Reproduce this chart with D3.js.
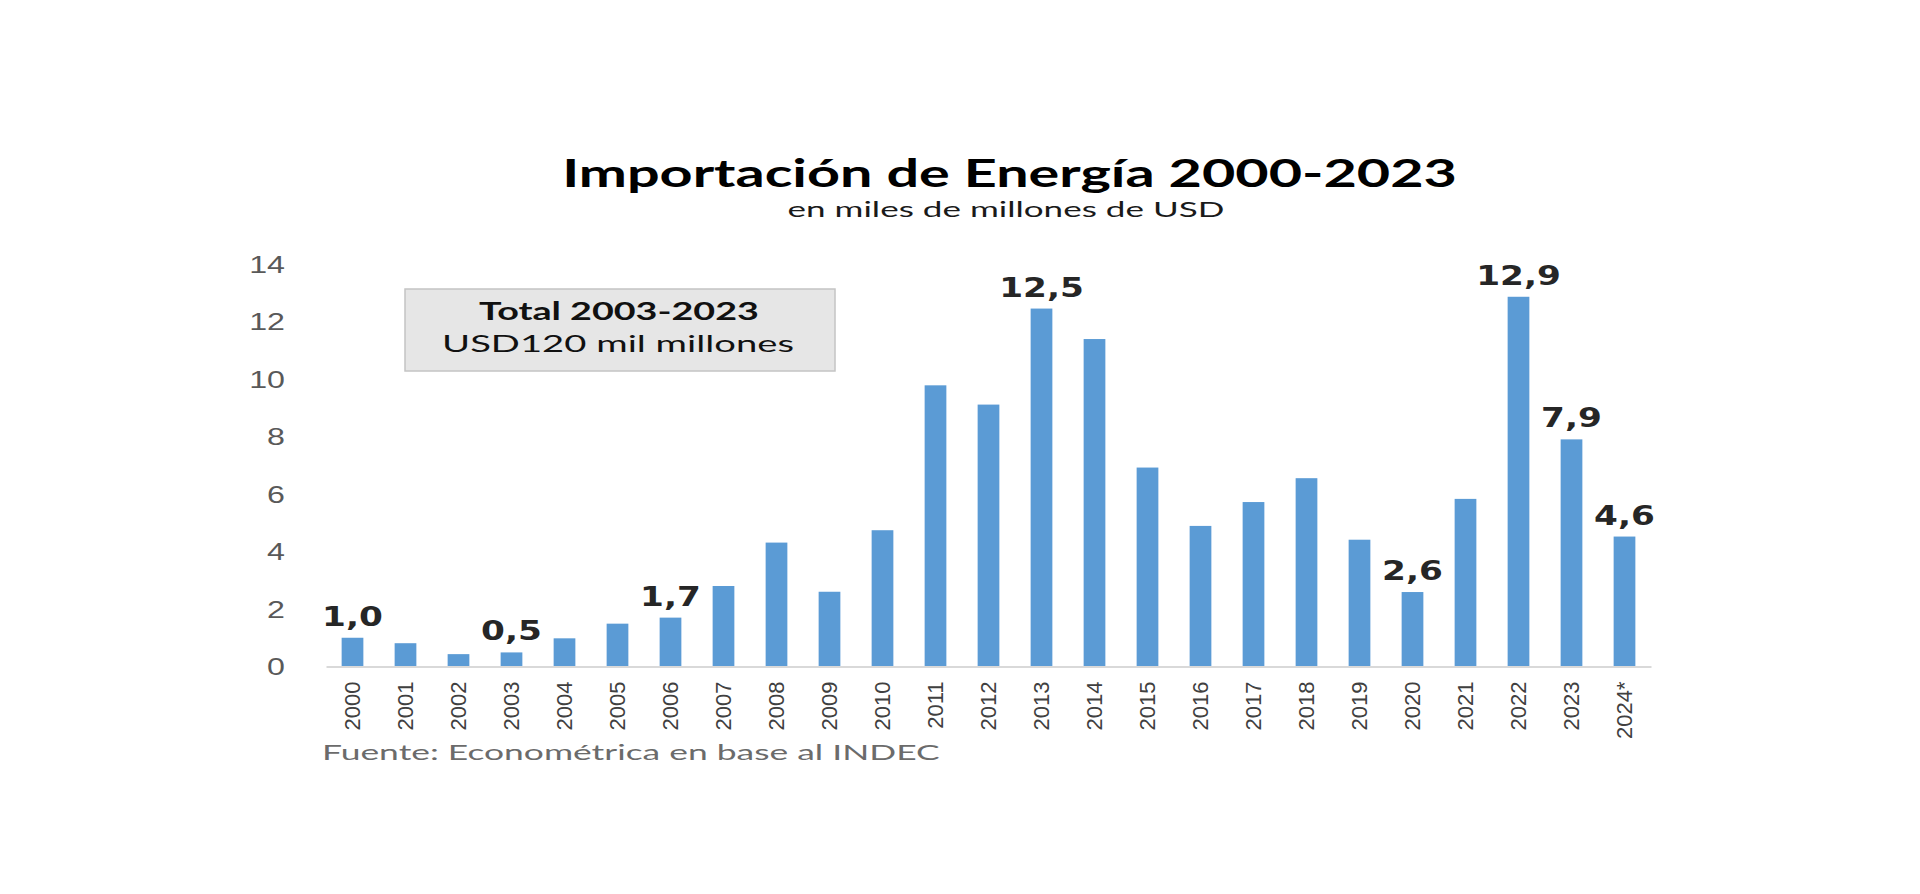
<!DOCTYPE html>
<html>
<head>
<meta charset="utf-8">
<script src="https://cdn.jsdelivr.net/npm/d3@7"></script>
<style>
  html, body { margin: 0; padding: 0; background: #ffffff; }
  svg { display: block; }
</style>
</head>
<body>
<script>
// ---- data ----
const categories = ["2000","2001","2002","2003","2004","2005","2006","2007","2008","2009",
  "2010","2011","2012","2013","2014","2015","2016","2017","2018","2019",
  "2020","2021","2022","2023","2024*"];
const values = [1.0, 0.81, 0.43, 0.49, 0.98, 1.49, 1.70, 2.80, 4.31, 2.60,
  4.74, 9.78, 9.11, 12.45, 11.39, 6.92, 4.89, 5.72, 6.55, 4.41,
  2.59, 5.83, 12.86, 7.90, 4.52];
const valueLabels = ["1,0","","","0,5","","","1,7","","","",
  "","","","12,5","","","","","","",
  "2,6","","12,9","7,9","4,6"];
const yTicks = [0, 2, 4, 6, 8, 10, 12, 14];
const titleText = "Importación de Energía 2000-2023";
const subtitleText = "en miles de millones de USD";
const boxLines = ["Total 2003-2023", "USD120 mil millones"];
const sourceText = "Fuente: Econométrica en base al INDEC";

// ---- layout ----
const W = 1920, H = 894;
const svg = d3.select("body").append("svg").attr("width", W).attr("height", H);

const x = d3.scaleBand().domain(categories).range([326, 1651])
  .paddingInner(0.59).paddingOuter(0.295);
const y = d3.scaleLinear().domain([0, 14]).range([666.5, 264]);

function fitText(sel, tx, ty, target) {
  const w = sel.node().getComputedTextLength();
  const s = target / w;
  sel.attr("x", 0).attr("y", 0).attr("transform", `translate(${tx},${ty}) scale(${s},1)`);
}

// title & subtitle
const title = svg.append("text").text(titleText)
  .attr("text-anchor", "middle")
  .style("font-family", "Lato, 'Open Sans', sans-serif")
  .style("font-weight", 700).style("font-size", "39px").style("fill", "#000");
fitText(title, 1009.5, 187, 895);

const sub = svg.append("text").text(subtitleText)
  .attr("text-anchor", "middle")
  .style("font-family", "Lato, 'Open Sans', sans-serif")
  .style("font-size", "22px").style("fill", "#1a1a1a");
fitText(sub, 1006, 217, 437);

// annotation box
svg.append("rect").attr("x", 405).attr("y", 289).attr("width", 430).attr("height", 82)
  .attr("fill", "#e6e6e6").attr("stroke", "#c4c4c4").attr("stroke-width", 1.5);
const b1 = svg.append("text").text(boxLines[0]).attr("text-anchor", "middle")
  .style("font-family", "Lato, sans-serif").style("font-weight", 700)
  .style("font-size", "24px").style("fill", "#111");
fitText(b1, 619, 320, 280);
const b2 = svg.append("text").text(boxLines[1]).attr("text-anchor", "middle")
  .style("font-family", "Lato, sans-serif")
  .style("font-size", "24px").style("fill", "#111");
fitText(b2, 618, 352, 352);

// bars
svg.append("g").selectAll("rect").data(categories).join("rect")
  .attr("x", d => x(d))
  .attr("y", (d, i) => y(values[i]))
  .attr("width", x.bandwidth())
  .attr("height", (d, i) => y(0) - y(values[i]))
  .attr("fill", "#5b9bd5");

// x axis
const gx = svg.append("g").attr("transform", `translate(0,${y(0)})`)
  .call(d3.axisBottom(x).tickSize(0).tickSizeOuter(0).tickPadding(0));
gx.select(".domain").attr("stroke", "#d9d9d9").attr("stroke-width", 2);
gx.selectAll("text")
  .attr("x", 0).attr("y", 0).attr("dy", "0.35em")
  .attr("text-anchor", "end")
  .attr("transform", "translate(0,15) rotate(-90)")
  .style("font-family", "'Liberation Sans', Arial, sans-serif")
  .style("font-size", "22px").style("fill", "#404040");

// y axis
const gy = svg.append("g").attr("transform", "translate(285,0)")
  .call(d3.axisLeft(y).tickValues(yTicks).tickSize(0).tickPadding(0));
gy.select(".domain").remove();
gy.selectAll("text")
  .attr("x", 0).attr("dy", "0.35em")
  .attr("transform", "scale(1.4,1)")
  .style("font-family", "'Liberation Sans', Arial, sans-serif")
  .style("font-size", "23px").style("fill", "#595959");

// value labels
svg.append("g").selectAll("text").data(categories.filter((c, i) => valueLabels[i] !== ""))
  .join("text")
  .text(c => valueLabels[categories.indexOf(c)])
  .attr("text-anchor", "middle")
  .attr("transform", c => {
    const i = categories.indexOf(c);
    return `translate(${x(c) + x.bandwidth() / 2},${y(values[i]) - 12}) scale(1.32,1)`;
  })
  .style("font-family", "'DejaVu Sans', Verdana, sans-serif")
  .style("font-weight", 700).style("font-size", "26px").style("fill", "#262626");

// source
const src = svg.append("text").text(sourceText).attr("text-anchor", "start")
  .style("font-family", "Lato, sans-serif")
  .style("font-size", "22px").style("fill", "#6b6b6b");
fitText(src, 322, 760, 618);
</script>
</body>
</html>
